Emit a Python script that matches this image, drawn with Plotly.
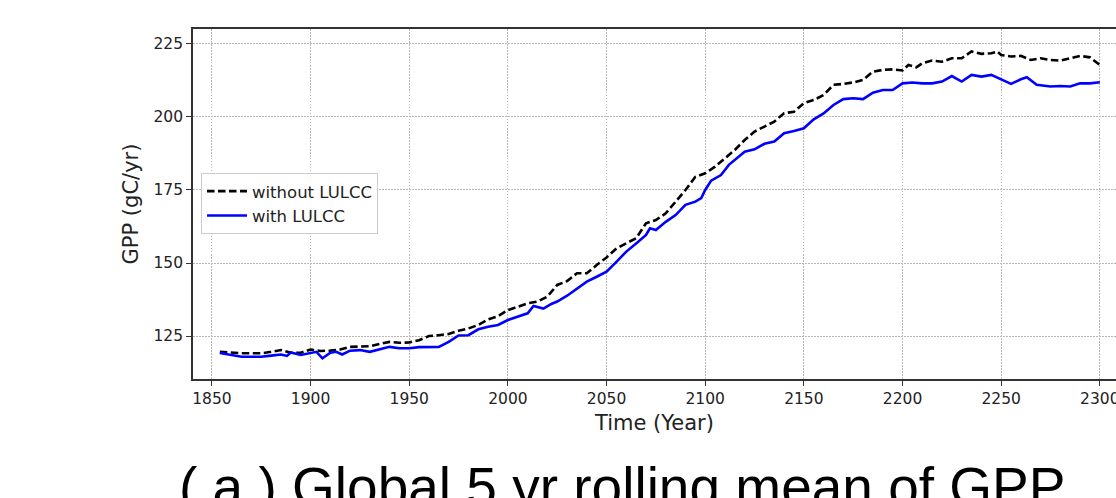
import plotly.graph_objects as go

# ---- data ----
years_without = [1854, 1860, 1865, 1870, 1875, 1880, 1885, 1890, 1895, 1900,
                 1905, 1910, 1915, 1920, 1925, 1930, 1935, 1940, 1945, 1950,
                 1955, 1960, 1965, 1970, 1975, 1980, 1985, 1990, 1995, 2000,
                 2005, 2010, 2015, 2020, 2025, 2030, 2035, 2040, 2045, 2050,
                 2055, 2060, 2065, 2070, 2075, 2080, 2085, 2090, 2095, 2100,
                 2105, 2110, 2115, 2120, 2125, 2130, 2135, 2140, 2145, 2150,
                 2155, 2160, 2165, 2170, 2175, 2180, 2185, 2190, 2195, 2200,
                 2203, 2207, 2210, 2215, 2220, 2225, 2230, 2235, 2240, 2245,
                 2248, 2250, 2255, 2260, 2265, 2270, 2275, 2280, 2285, 2290,
                 2295, 2300]
gpp_without = [119.6, 119.3, 119.1, 119.1, 119.1, 119.6, 120.2, 119.3, 119.3, 120.4,
               119.9, 120.0, 120.4, 121.3, 121.5, 121.5, 122.3, 123.0, 122.7, 122.8,
               123.6, 125.0, 125.3, 125.7, 126.8, 127.6, 128.8, 130.7, 131.8, 133.9,
               135.0, 136.2, 136.8, 138.5, 142.5, 143.8, 146.5, 146.5, 149.3, 151.9,
               155.0, 156.7, 158.5, 163.6, 164.7, 167.0, 171.0, 175.0, 179.5, 180.7,
               183.0, 185.9, 188.7, 192.1, 195.0, 196.7, 198.4, 201.3, 201.8, 204.7,
               205.8, 207.5, 211.0, 211.3, 211.8, 212.7, 215.5, 216.1, 216.3, 215.9,
               217.8, 217.0, 218.4, 219.3, 218.9, 220.1, 220.1, 222.4, 221.6, 221.8,
               222.4, 221.2, 220.7, 220.9, 219.5, 220.1, 219.5, 219.3, 220.1, 220.9,
               220.4, 217.8]

years_with = [1854, 1860, 1865, 1870, 1875, 1880, 1885, 1888, 1890, 1895,
              1900, 1903, 1906, 1910, 1913, 1916, 1920, 1925, 1930, 1935,
              1940, 1945, 1950, 1955, 1960, 1965, 1970, 1975, 1980, 1985,
              1990, 1995, 2000, 2005, 2010, 2013, 2018, 2022, 2025, 2030,
              2035, 2040, 2045, 2050, 2055, 2060, 2065, 2070, 2072, 2075,
              2080, 2085, 2090, 2095, 2098, 2100, 2103, 2108, 2112, 2116,
              2120, 2125, 2130, 2135, 2140, 2145, 2150, 2155, 2160, 2165,
              2170, 2175, 2180, 2185, 2190, 2195, 2200, 2205, 2210, 2215,
              2220, 2225, 2230, 2235, 2240, 2245, 2250, 2255, 2260, 2263,
              2268, 2275, 2280, 2285, 2290, 2295, 2300]
gpp_with = [119.2, 118.5, 117.9, 117.9, 117.9, 118.3, 118.7, 118.2, 119.4, 118.5,
            119.3, 119.6, 117.4, 119.3, 119.6, 118.7, 120.0, 120.2, 119.6, 120.4,
            121.3, 120.8, 120.8, 121.2, 121.3, 121.3, 123.0, 125.2, 125.3, 127.3,
            128.2, 128.8, 130.5, 131.6, 132.8, 135.3, 134.4, 136.0, 136.8, 138.8,
            141.2, 143.6, 145.3, 147.0, 150.4, 153.9, 156.7, 159.6, 161.9, 161.3,
            164.1, 166.4, 169.9, 171.0, 172.2, 175.0, 178.2, 180.1, 183.6, 185.9,
            188.1, 188.9, 190.8, 191.6, 194.4, 195.2, 196.1, 199.2, 201.2, 204.1,
            206.1, 206.4, 206.1, 208.3, 209.2, 209.2, 211.5, 211.8, 211.5, 211.5,
            212.1, 214.0, 212.1, 214.4, 213.8, 214.4, 212.9, 211.3, 212.9, 213.6,
            211.0, 210.4, 210.6, 210.4, 211.5, 211.5, 211.9]

x_ticks = [1850, 1900, 1950, 2000, 2050, 2100, 2150, 2200, 2250, 2300]
y_ticks = [125, 150, 175, 200, 225]

title_text = "( a ) Global 5 yr rolling mean of GPP"
x_title = "Time (Year)"
y_title = "GPP (gC/yr)"

FONT = "DejaVu Sans"

fig = go.Figure()
fig.add_trace(go.Scatter(
    x=years_without, y=gpp_without, mode="lines", name="without LULCC",
    line=dict(color="black", width=2.6, dash="7.5px,3.5px"),
))
fig.add_trace(go.Scatter(
    x=years_with, y=gpp_with, mode="lines", name="with LULCC",
    line=dict(color="#0000ff", width=2.6),
))

axis_common = dict(
    showline=True, linecolor="#333333", linewidth=1.6,
    ticks="outside", ticklen=5, tickwidth=1.4, tickcolor="#333333",
    showgrid=True, gridcolor="#b8b8b8", gridwidth=1, griddash="1.5px,1.5px",
    zeroline=False, automargin=False, ticklabeloverflow="allow",
    tickfont=dict(family=FONT, size=15.5, color="#222222"),
)

fig.update_layout(
    width=1116, height=498,
    margin=dict(l=193, r=0, t=29, b=119),
    paper_bgcolor="white", plot_bgcolor="white",
    font=dict(family=FONT, color="#222222"),
    xaxis=dict(
        axis_common, range=[1840.4, 2308.2], tickvals=x_ticks,
        mirror=True,
        title=dict(text=x_title, font=dict(family=FONT, size=21, color="#222222"), standoff=8),
    ),
    yaxis=dict(
        axis_common, range=[110.3, 230.1], tickvals=y_ticks,
        title=dict(text=y_title, font=dict(family=FONT, size=21, color="#222222"), standoff=9),
    ),
    legend=dict(
        x=0.0087, y=0.589, xanchor="left", yanchor="top",
        bgcolor="rgba(255,255,255,0.9)", bordercolor="#cccccc", borderwidth=1,
        font=dict(family=FONT, size=16.5, color="#222222"),
        tracegroupgap=0, itemwidth=40,
    ),
    showlegend=True,
)

fig.add_annotation(
    text=title_text, xref="paper", yref="paper",
    x=0.4653, y=-0.215, xanchor="center", yanchor="top",
    showarrow=False,
    font=dict(family="Liberation Sans", size=55, color="black"),
)

# remove the default 8px page margin so the figure fills the window exactly
fig.write_html(
    "out.html",
    config={"displayModeBar": False},
    post_script="document.body.style.margin='0';"
                "document.documentElement.style.overflow='hidden';",
)
